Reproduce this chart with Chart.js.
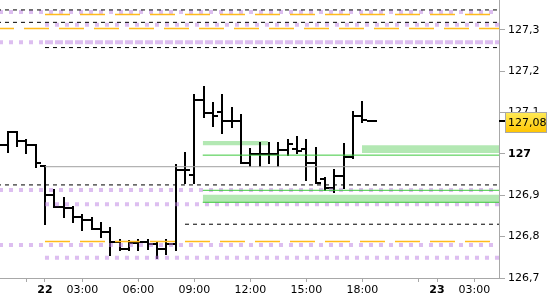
<!DOCTYPE html>
<html><head><meta charset="utf-8">
<script src="https://cdn.jsdelivr.net/npm/chart.js@4.4.1/dist/chart.umd.min.js"></script>
<style>html,body{margin:0;padding:0;background:#fff;overflow:hidden}canvas{display:block}</style>
</head><body>
<canvas id="c" width="550" height="300"></canvas>
<script>
// ---- data: 30-minute OHLC bars, indexed by slot (0 = first bar of day 22) ----
const slots  = [-5,-4,-3,-2,-1,0,1,2,3,4,5,6,7,8,9,10,11,12,13,14,15,16,17,18,19,20,21,22,23,24,25,26,27,28,29,30,31,32,33,34,35];
const opens  = [127.021,127.021,127.053,127.031,127.021,126.971,126.901,126.872,126.869,126.847,126.840,126.818,126.811,126.787,126.770,126.785,126.787,126.782,126.770,126.782,126.961,126.949,127.130,127.099,127.101,127.080,127.080,126.978,127.000,127.000,127.000,127.009,127.012,127.012,126.978,126.939,126.918,126.947,126.992,127.092,127.080];
const highs  = [127.034,127.053,127.053,127.034,127.021,126.971,126.913,126.893,126.872,126.852,126.845,126.833,126.821,126.792,126.789,126.792,126.792,126.785,126.792,126.973,127.002,127.142,127.162,127.123,127.142,127.111,127.094,127.012,127.026,127.026,127.026,127.034,127.041,127.034,127.014,126.942,126.961,127.024,127.101,127.125,127.080];
const lows   = [127.009,127.005,127.019,127.002,126.968,126.831,126.872,126.847,126.835,126.816,126.818,126.799,126.756,126.768,126.768,126.768,126.770,126.748,126.758,126.768,126.930,126.930,127.089,127.067,127.050,127.065,126.978,126.971,126.971,126.978,126.971,126.997,127.002,126.937,126.930,126.913,126.908,126.918,126.990,127.077,127.080];
const closes = [127.021,127.053,127.031,127.021,126.978,126.901,126.872,126.869,126.847,126.840,126.818,126.811,126.787,126.770,126.785,126.787,126.782,126.770,126.782,126.961,126.961,127.130,127.099,127.092,127.080,127.080,126.978,127.000,127.000,127.000,127.009,127.024,127.007,126.978,126.930,126.918,126.947,126.992,127.092,127.082,127.080];
const lastPrice = 127.08;

// ---- level lines (value, starting slot) ----
const dashedLevels = [127.348,127.318,127.257,126.925,126.830];
const dashedFrom   = [-6,-6,0,-6,15];
const dottedLevels = [127.343,127.312,127.270,127.270,126.913,126.878,126.780,126.749];
const dottedFrom   = [-6,0,-6,0,-6,0,-6,0];
const orangeLevels = [127.337,127.303,126.788];
const orangeFrom   = [0,-6,0];
const grayLevels   = [126.969];
const grayFrom     = [0];
const greenLevels  = [126.997,126.912,126.883];
const greenFrom    = [16.9,16.9,16.9];
const bandTops     = [127.031,127.021,126.901];
const bandBottoms  = [127.021,127.002,126.883];
const bandFrom     = [16.9,33.95,16.9];
const bandTo       = [23.9,50,50];

// ---- axes ----
const X_MIN = -4.82, X_MAX = 48.64, LINE_END = 50;
const Y_MIN = 126.7, Y_MAX = 127.372;
const xTickValues = [-2,0,4,10,16,22,28,34,40,42,46];
const xTickLabels = ['','22','03:00','06:00','09:00','12:00','15:00','18:00','','23','03:00'];
const xBoldLabels = ['22','23'];
const yTickValues = [126.7,126.8,126.9,127.0,127.1,127.2,127.3];
const yTickLabels = ['126,7','126,8','126,9','127','127,1','127,2','127,3'];
const yBoldLabels = ['127'];

const FONT = 'DejaVu Sans';
const AXIS = '#a8a8a8';

function level(value, from, color, width, dash) {
  return { type:'line', data:[{x:from,y:value},{x:LINE_END,y:value}], borderColor:color, borderWidth:width,
           borderDash:dash, pointRadius:0, fill:false, tension:0 };
}
const datasets = [];
greenLevels.forEach((v,i)=>datasets.push(level(v, greenFrom[i], '#3cc83c', 1, [])));
grayLevels.forEach((v,i)=>datasets.push(level(v, grayFrom[i], '#a0a0a0', 1, [])));
dashedLevels.forEach((v,i)=>datasets.push(level(v, dashedFrom[i], '#000000', 1, [4,4])));
orangeLevels.forEach((v,i)=>datasets.push(level(v, orangeFrom[i], '#ffbb1c', 1.5, [25,10])));
dottedLevels.forEach((v,i)=>datasets.push(level(v, dottedFrom[i], 'rgba(187,125,225,0.5)', 4, [4,6])));
bandTops.forEach((v,i)=>datasets.push({ type:'line', data:[{x:bandFrom[i],y:v},{x:bandTo[i],y:v}],
  borderWidth:0, borderColor:'rgba(0,0,0,0)', pointRadius:0, fill:{value:bandBottoms[i]},
  backgroundColor:'#b3e8b3', tension:0 }));

const ohlcPlugin = {
  id:'ohlc',
  beforeDatasetsDraw(chart) {
    const {ctx, chartArea:a, scales:{x,y}} = chart;
    ctx.save();
    ctx.beginPath(); ctx.rect(a.left, a.top, a.right-a.left, a.bottom-a.top); ctx.clip();
    ctx.fillStyle = '#000';
    for (let i=0;i<slots.length;i++) {
      const px = Math.round(x.getPixelForValue(slots[i]));
      const yh = Math.round(y.getPixelForValue(highs[i]));
      const yl = Math.round(y.getPixelForValue(lows[i]));
      const yo = Math.round(y.getPixelForValue(opens[i]));
      const yc = Math.round(y.getPixelForValue(closes[i]));
      ctx.fillRect(px-1, yh-1, 2, Math.max(yl-yh+2,2));
      ctx.fillRect(px-5, yo-1, 4, 2);
      ctx.fillRect(px+1, yc-1, 4, 2);
    }
    ctx.restore();
  },
  afterDraw(chart) {
    const {ctx, chartArea:a, scales:{y}} = chart;
    const yp = Math.round(y.getPixelForValue(lastPrice));
    ctx.save();
    ctx.fillStyle = '#000';
    ctx.fillRect(a.right, yp-1, 6, 2);
    const bx = a.right+6, by = yp-9, bw = 42, bh = 21;
    const g = ctx.createLinearGradient(0, by, 0, by+bh);
    g.addColorStop(0, '#ffec5a'); g.addColorStop(1, '#ffc400');
    ctx.fillStyle = g; ctx.fillRect(bx, by, bw, bh);
    ctx.strokeStyle = '#a8a8a8'; ctx.lineWidth = 1; ctx.strokeRect(bx+0.5, by+0.5, bw-1, bh-1);
    ctx.fillStyle = '#000'; ctx.font = '11px "'+FONT+'"'; ctx.textBaseline = 'middle'; ctx.textAlign='left';
    ctx.fillText(lastPrice.toFixed(2).replace('.', ','), bx+3, by+bh/2+1);
    ctx.restore();
  }
};

new Chart(document.getElementById('c'), {
  type:'line',
  data:{ datasets },
  plugins:[ohlcPlugin],
  options:{
    responsive:false, animation:false, devicePixelRatio:1,
    layout:{ padding:0 },
    plugins:{ legend:{display:false}, tooltip:{enabled:false}, filler:{drawTime:'beforeDatasetsDraw'} },
    scales:{
      x:{ type:'linear', position:'bottom', min:X_MIN, max:X_MAX,
        afterBuildTicks:s=>{ s.ticks = xTickValues.map(v=>({value:v})); },
        afterFit:s=>{ s.height = 22; s.paddingLeft = 0; s.paddingRight = 0; },
        ticks:{ autoSkip:false, maxRotation:0, minRotation:0, padding:2, color:'#000',
          callback:(v,i)=>xTickLabels[i],
          font:c=>({family:FONT, size:11, weight: xBoldLabels.includes(xTickLabels[c.index]) ? 'bold':'normal'}) },
        grid:{ drawOnChartArea:false, drawTicks:true, tickLength:4, color:AXIS },
        border:{ display:true, color:AXIS }
      },
      y:{ type:'linear', position:'right', min:Y_MIN, max:Y_MAX,
        afterBuildTicks:s=>{ s.ticks = yTickValues.map(v=>({value:v})); },
        afterFit:s=>{ s.width = 51; s.paddingTop = 0; s.paddingBottom = 0; },
        ticks:{ padding:3, color:'#000',
          callback:(v,i)=>yTickLabels[i],
          font:c=>({family:FONT, size:11, weight: yBoldLabels.includes(yTickLabels[c.index]) ? 'bold':'normal'}) },
        grid:{ drawOnChartArea:false, drawTicks:true, tickLength:6, color:AXIS },
        border:{ display:true, color:AXIS }
      }
    }
  }
});
</script></body></html>
